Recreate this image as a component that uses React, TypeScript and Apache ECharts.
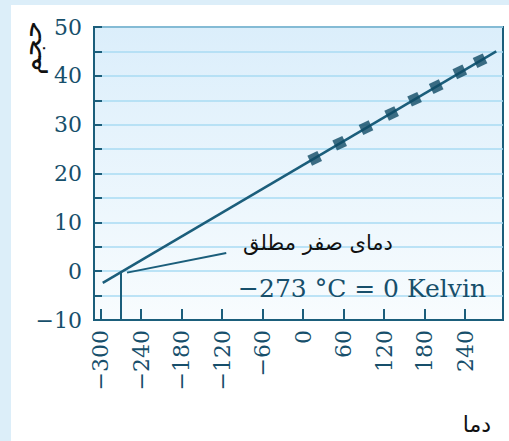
import React, { useEffect, useRef } from "react";
import * as echarts from "echarts";

const xTickValues = [-300, -240, -180, -120, -60, 0, 60, 120, 180, 240];
const measuredT = [17, 54, 93, 131, 165, 197, 232, 262];
const measuredV = [23.1, 26.2, 29.4, 32.3, 35.2, 37.8, 40.8, 43.1];
const fitLine = [
  [-297, -2.4],
  [286, 45],
];
const absoluteZeroT = -270;
const pointerLine = [
  [-261, -0.3],
  [-114, 3.7],
];
const annotationFa = "دمای صفر مطلق";
const annotationEq = "−273 °C = 0 Kelvin";
const yName = "حجم";
const xName = "دما";

const AX = "#1b5e7b";
const LBL = "#174f6b";

export default function App() {
  const ref = useRef<HTMLDivElement>(null);
  useEffect(() => {
    document.body.style.margin = "0";
    const chart = echarts.init(ref.current!, null, { renderer: "svg" });
    const minus = (v: number) => String(v).replace("-", "−");
    chart.setOption({
      animation: false,
      backgroundColor: "#ffffff",
      grid: {
        left: 94,
        top: 27,
        width: 409,
        height: 293,
        show: true,
        borderColor: AX,
        borderWidth: 2,
        backgroundColor: new echarts.graphic.LinearGradient(0, 0, 0, 1, [
          { offset: 0, color: "#dbeefb" },
          { offset: 1, color: "#f8fcfe" },
        ]),
      },
      xAxis: {
        type: "value",
        min: -310,
        max: 296,
        axisLine: { show: true, onZero: false, lineStyle: { color: AX, width: 2 } },
        axisTick: {
          show: true,
          inside: true,
          length: 11,
          customValues: xTickValues,
          lineStyle: { color: AX, width: 2 },
        },
        axisLabel: {
          customValues: xTickValues,
          rotate: 90,
          margin: 10,
          color: LBL,
          fontFamily: "DejaVu Serif",
          fontSize: 22,
          formatter: (v: number) => minus(v),
        },
        splitLine: { show: false },
      },
      yAxis: {
        type: "value",
        min: -10,
        max: 50,
        interval: 5,
        axisLine: { show: true, onZero: false, lineStyle: { color: AX, width: 2 } },
        axisTick: { show: true, inside: true, length: 8, lineStyle: { color: AX, width: 2 } },
        axisLabel: {
          margin: 12,
          color: LBL,
          fontFamily: "DejaVu Serif",
          fontSize: 22,
          formatter: (v: number) => (v % 10 === 0 ? minus(v) : ""),
        },
        splitLine: { show: true, lineStyle: { color: "#a9dbf3", width: 1.5 } },
      },
      series: [
        {
          type: "line",
          data: fitLine,
          symbol: "none",
          lineStyle: { color: AX, width: 2.5 },
          z: 3,
        },
        {
          type: "line",
          data: [
            [absoluteZeroT, 0],
            [absoluteZeroT, -10],
          ],
          symbol: "none",
          lineStyle: { color: AX, width: 2 },
          z: 3,
        },
        {
          type: "line",
          data: pointerLine,
          symbol: "none",
          lineStyle: { color: AX, width: 2 },
          z: 3,
        },
        {
          type: "scatter",
          data: measuredT.map((t, i) => [t, measuredV[i]]),
          symbol: "rect",
          symbolSize: 11,
          symbolRotate: 25,
          itemStyle: { color: "#0f4a64" },
          z: 4,
        },
      ],
      graphic: [
        { type: "rect", shape: { x: 0, y: 0, width: 509, height: 5 }, style: { fill: "#dceef9" }, silent: true },
        { type: "rect", shape: { x: 0, y: 0, width: 11, height: 441 }, style: { fill: "#dceef9" }, silent: true },
        {
          type: "text",
          x: 318,
          y: 243,
          style: {
            text: annotationFa,
            fill: "#111111",
            fontFamily: "DejaVu Sans",
            fontSize: 21,
            align: "center",
            verticalAlign: "middle",
          },
          z: 10,
        },
        {
          type: "text",
          x: 362,
          y: 288,
          style: {
            text: annotationEq,
            fill: LBL,
            fontFamily: "DejaVu Serif",
            fontSize: 25,
            align: "center",
            verticalAlign: "middle",
          },
          z: 10,
        },
        {
          type: "text",
          x: 31,
          y: 48,
          rotation: Math.PI / 2,
          style: {
            text: yName,
            fill: "#111111",
            fontFamily: "DejaVu Sans",
            fontSize: 28,
            align: "center",
            verticalAlign: "middle",
          },
          z: 10,
        },
        {
          type: "text",
          x: 477,
          y: 424,
          style: {
            text: xName,
            fill: "#111111",
            fontFamily: "DejaVu Sans",
            fontSize: 22,
            align: "center",
            verticalAlign: "middle",
          },
          z: 10,
        },
      ],
    });
    return () => chart.dispose();
  }, []);
  return <div ref={ref} style={{ position: "fixed", left: 0, top: 0, width: 509, height: 441 }} />;
}
